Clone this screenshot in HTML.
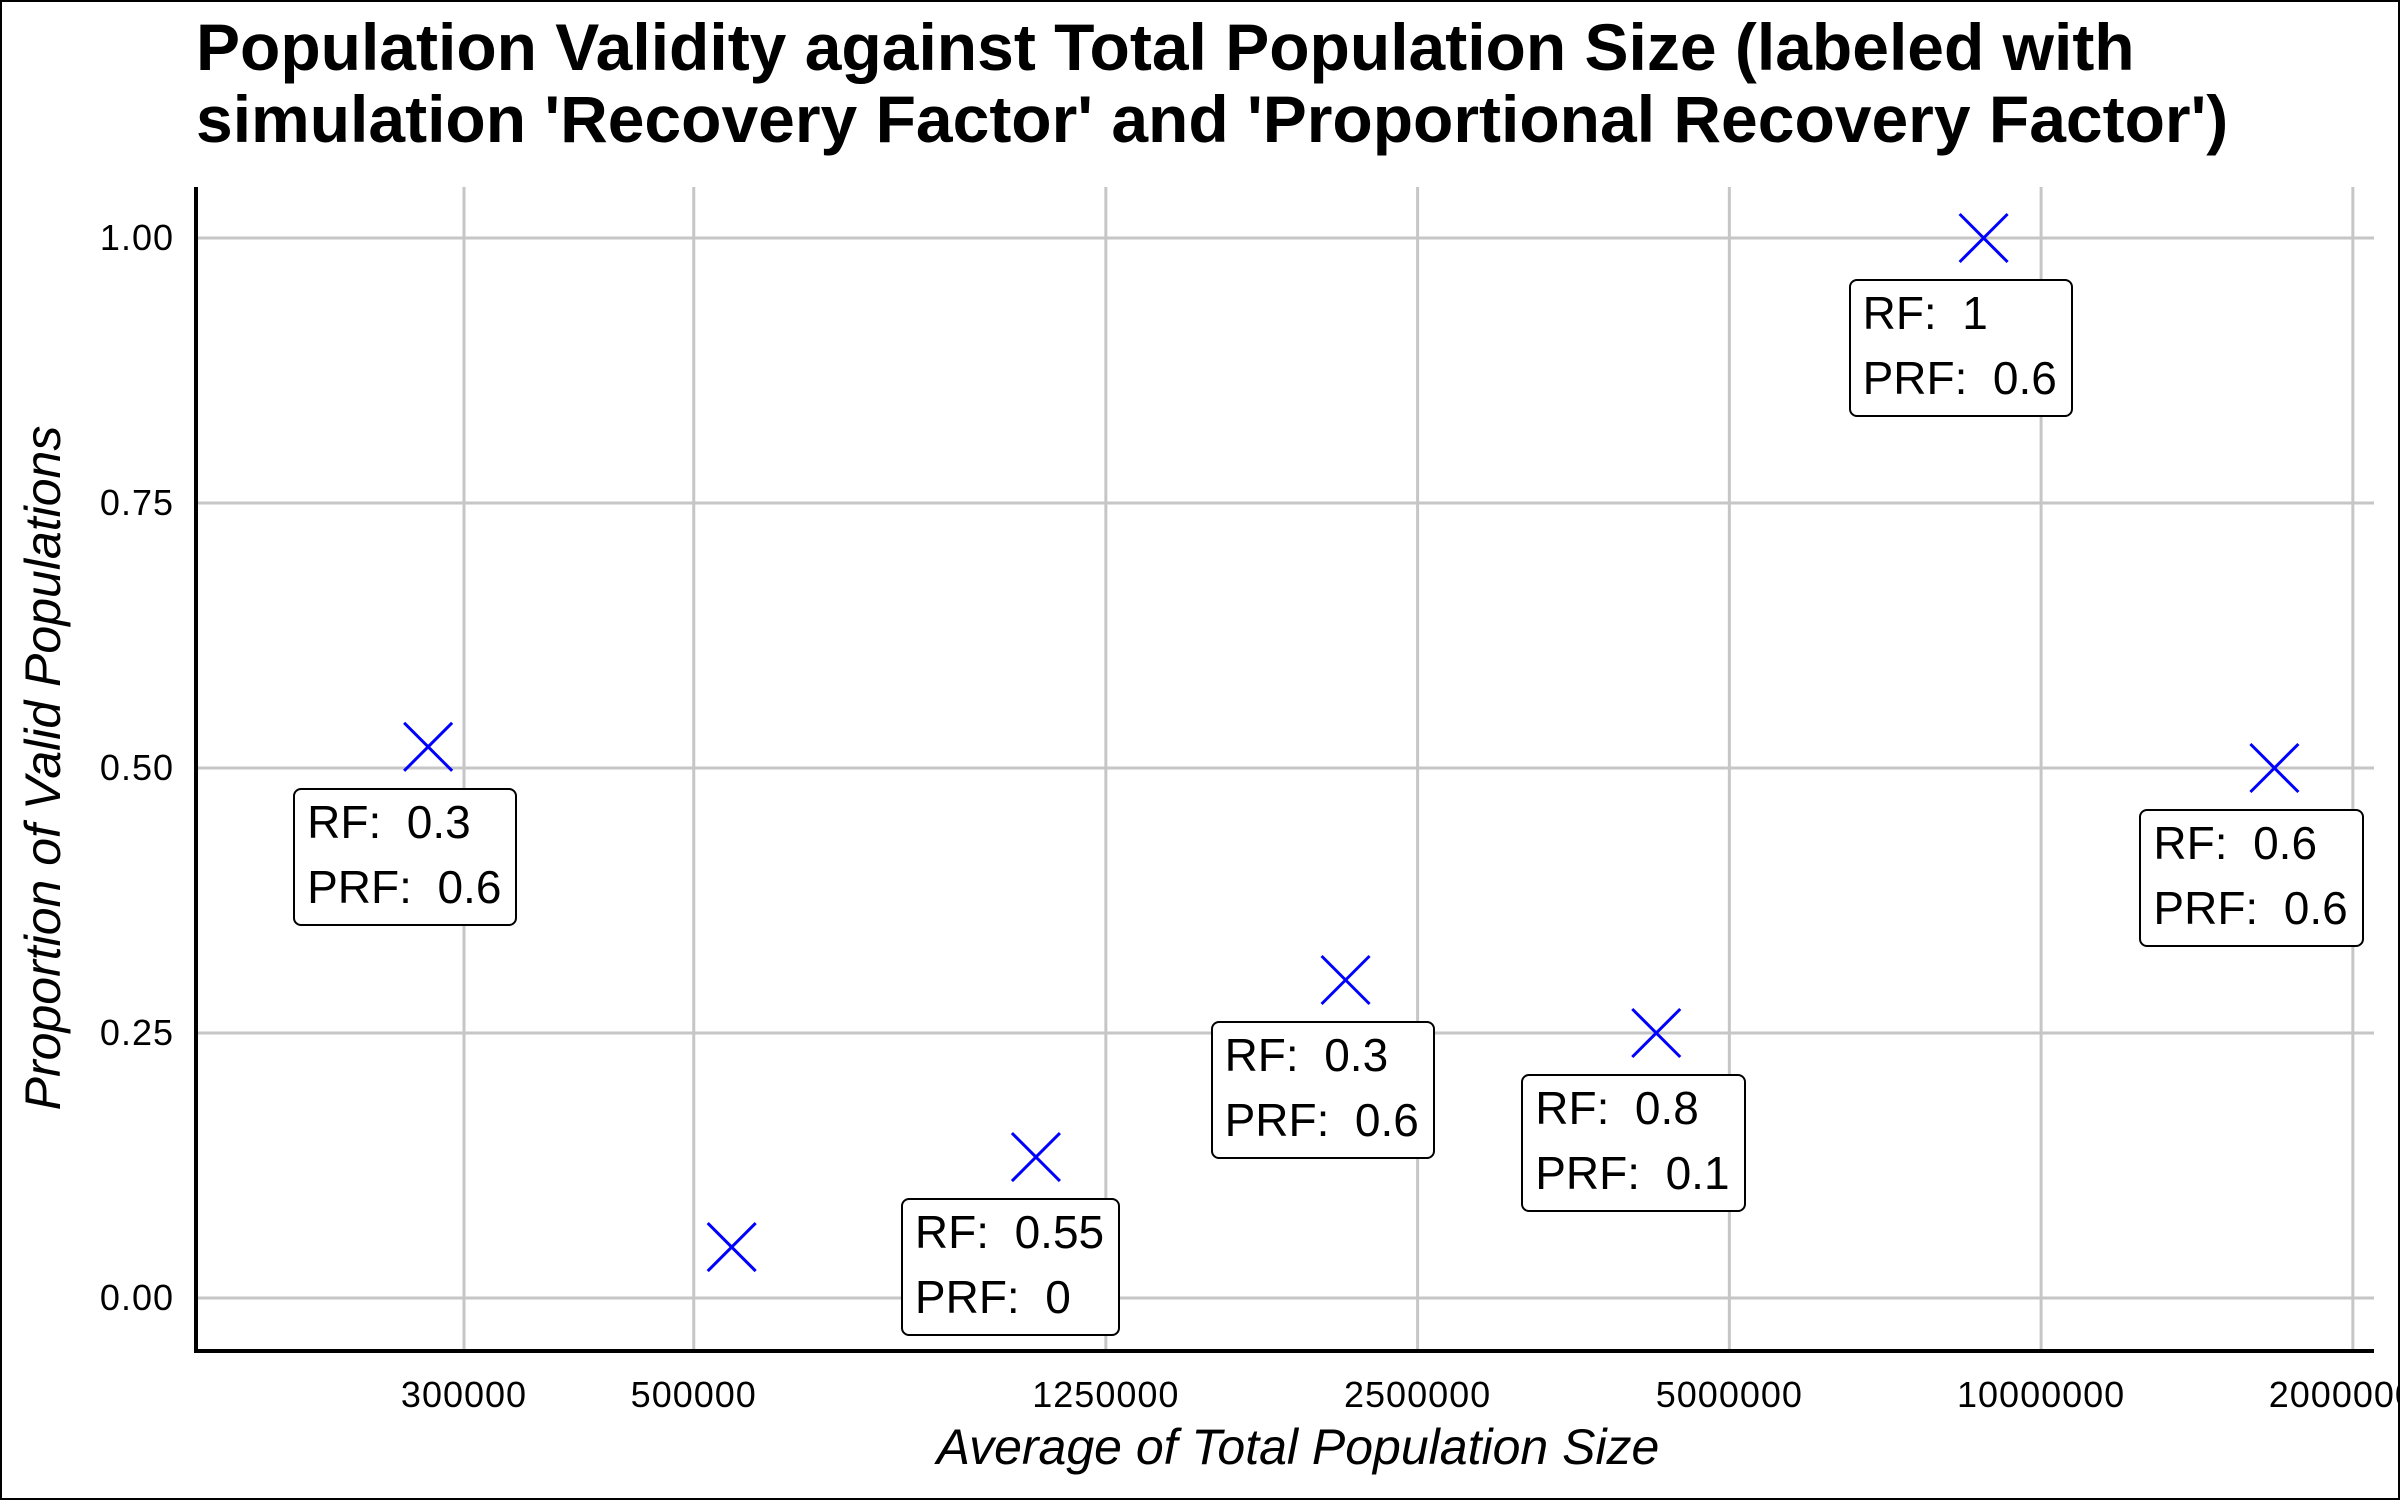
<!DOCTYPE html>
<html><head><meta charset="utf-8"><style>
html,body{margin:0;padding:0;background:#fff}
#wrap{position:relative;width:2400px;height:1500px;box-sizing:border-box;border:2px solid #000;overflow:hidden;font-family:"Liberation Sans",sans-serif}
.lbl{position:absolute;box-sizing:border-box;border:2px solid #000;border-radius:8px;background:#fff;padding:0 14px 4px 12px;font-size:46px;line-height:65px;white-space:pre;color:#000}
</style></head><body>
<div id="wrap">
<svg id="chart" width="2400" height="1500" style="position:absolute;left:-2px;top:-2px">
<text x="196" y="70" font-size="66" font-weight="bold" font-family="Liberation Sans, sans-serif">Population Validity against Total Population Size (labeled with</text>
<text x="196" y="142" font-size="66" font-weight="bold" font-family="Liberation Sans, sans-serif">simulation 'Recovery Factor' and 'Proportional Recovery Factor')</text>
<g id="grid"></g><g id="axes"></g><g id="marks"></g>
<text x="1298" y="1464" font-size="50" font-style="italic" text-anchor="middle" font-family="Liberation Sans, sans-serif">Average of Total Population Size</text>
<text transform="translate(60,768) rotate(-90)" font-size="50" font-style="italic" text-anchor="middle" font-family="Liberation Sans, sans-serif">Proportion of Valid Populations</text>
</svg>
<div id="labels"></div>
</div>
<script>
const xValues = [277000, 544000, 1070000, 2130000, 4250000, 8800000, 16800000];
const yValues = [0.52, 0.048, 0.133, 0.30, 0.25, 1.0, 0.50];
const rfValues = ["0.3", "", "0.55", "0.3", "0.8", "1", "0.6"];
const prfValues = ["0.6", "", "0", "0.6", "0.1", "0.6", "0.6"];
const xTicks = [300000, 500000, 1250000, 2500000, 5000000, 10000000, 20000000];
const yTicks = [0, 0.25, 0.5, 0.75, 1.0];
const yTickLabels = ["0.00", "0.25", "0.50", "0.75", "1.00"];

const NS = "http://www.w3.org/2000/svg";
const L = 196, R = 2374, T = 187, B = 1351;
function xs(v){ return 464 + (Math.log10(v) - Math.log10(300000)) * 1035.6; }
function ys(v){ return 1298 - v * 1060; }
function mk(tag, attrs, parent){ const e = document.createElementNS(NS, tag); for (const k in attrs) e.setAttribute(k, attrs[k]); parent.appendChild(e); return e; }
const grid = document.getElementById('grid'), axes = document.getElementById('axes'), marks = document.getElementById('marks');
yTicks.forEach((t, i) => {
  const ln = mk('line', {x1: L, x2: R, y1: ys(t), y2: ys(t), stroke: '#c6c6c6', 'stroke-width': 3}, grid);
  
  
  const tx = mk('text', {x: 174, y: ys(t) + 12, 'font-size': 36, 'letter-spacing': 1, 'text-anchor': 'end', 'font-family': 'Liberation Sans, sans-serif'}, axes);
  tx.textContent = yTickLabels[i];
  
  
});
xTicks.forEach(t => {
  const ln = mk('line', {x1: xs(t), x2: xs(t), y1: T, y2: B, stroke: '#c6c6c6', 'stroke-width': 3}, grid);
  
  
  const tx = mk('text', {x: xs(t), y: 1407, 'font-size': 36, 'letter-spacing': 1, 'text-anchor': 'middle', 'font-family': 'Liberation Sans, sans-serif'}, axes);
  tx.textContent = String(t);
  
  
});
const ya = mk('line', {x1: L, x2: L, y1: T, y2: B + 2, stroke: '#000', 'stroke-width': 4}, axes);


const xa = mk('line', {x1: L - 2, x2: R, y1: B, y2: B, stroke: '#000', 'stroke-width': 4}, axes);


const labels = document.getElementById('labels');
xValues.forEach((v, i) => {
  const cx = xs(v), cy = ys(yValues[i]), s = 24;
  const p = mk('path', {d: `M${cx-s} ${cy-s}L${cx+s} ${cy+s}M${cx-s} ${cy+s}L${cx+s} ${cy-s}`, stroke: '#0000ff', 'stroke-width': 3, fill: 'none'}, marks);
  
  
  if (rfValues[i] !== "") {
    const d = document.createElement('div');
    d.className = 'lbl';
    d.style.left = (cx - 137) + 'px';
    d.style.top = (cy + 39) + 'px';
    d.textContent = 'RF:  ' + rfValues[i] + '\nPRF:  ' + prfValues[i];
    
    
    labels.appendChild(d);
  }
});
</script>
</body></html>
